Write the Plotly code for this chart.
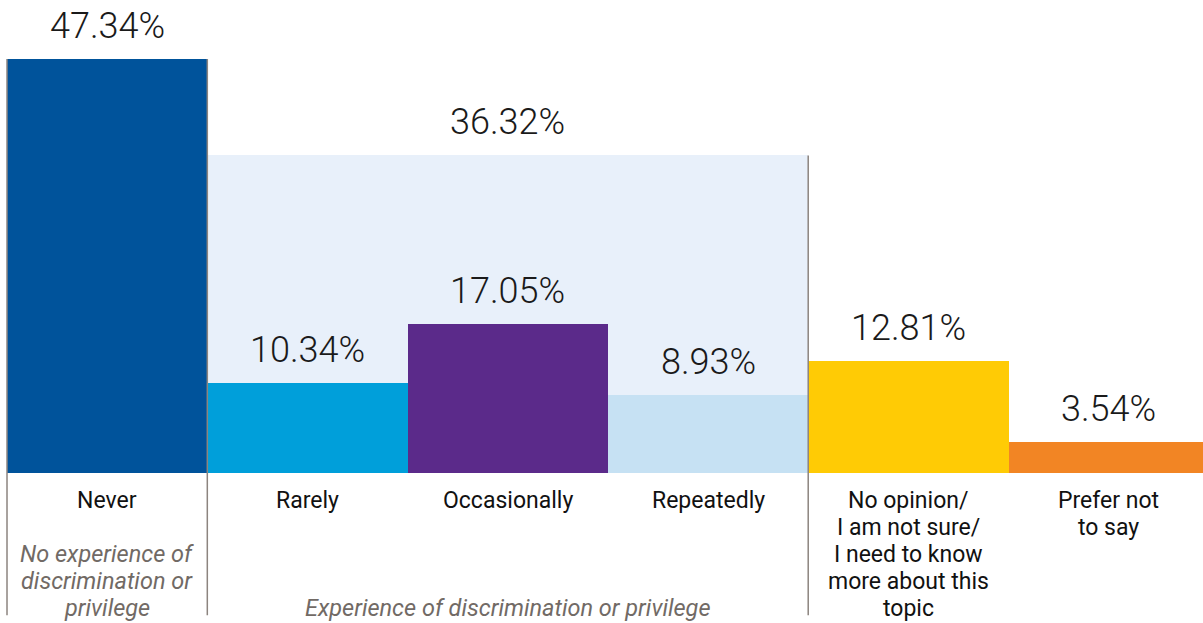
import plotly.graph_objects as go

categories = ["Never", "Rarely", "Occasionally", "Repeatedly",
              "No opinion/<br>I am not sure/<br>I need to know<br>more about this<br>topic",
              "Prefer not<br>to say"]
values = [47.34, 10.34, 17.05, 8.93, 12.81, 3.54]
colors = ["#00539b", "#009fda", "#5b2a8a", "#c6e1f3", "#ffcb05", "#f28524"]
group_label = "Experience of discrimination or privilege"
never_note = "No experience of<br>discrimination or<br>privilege"
group_idx = [1, 2, 3]
group_total = round(sum(values[i] for i in group_idx), 2)

x = list(range(len(categories)))
fig = go.Figure()

# background group bar
gx = sum(group_idx) / len(group_idx)
fig.add_trace(go.Bar(x=[gx], y=[group_total], width=[len(group_idx)],
                     marker=dict(color="#e8f0fa", line=dict(width=0)),
                     hoverinfo="skip", showlegend=False))
fig.add_trace(go.Bar(x=x, y=values, width=1.0,
                     marker=dict(color=colors, line=dict(width=0)),
                     showlegend=False))

val_font = dict(family="Roboto", size=36, color="#1a1a1a", weight=300)
for xi, v in zip(x, values):
    fig.add_annotation(x=xi, y=v, text=f"{v:.2f}%", showarrow=False,
                       yanchor="bottom", yshift=10, font=val_font)
fig.add_annotation(x=gx, y=group_total, text=f"{group_total:.2f}%", showarrow=False,
                   yanchor="bottom", yshift=10, font=val_font)

LINE_H = 27


def multiline(xpos, text, first_center, font):
    for k, line in enumerate(text.split("<br>")):
        fig.add_annotation(x=xpos, y=0, text=line, showarrow=False,
                           yanchor="middle", yshift=-(first_center + LINE_H * k),
                           font=font)


cat_font = dict(family="Roboto", size=23, color="#111111")
for xi, c in zip(x, categories):
    multiline(xi, c, 27, cat_font)

it_font = dict(family="Roboto", size=23.5, color="#716a65", style="italic")
multiline(0, never_note, 81, it_font)
multiline(gx, group_label, 135, it_font)

line_bottom = -16.25
line_col = "#8c847f"
fig.add_shape(type="line", x0=-0.5, x1=-0.5, y0=values[0], y1=line_bottom,
              line=dict(color=line_col, width=1.5), layer="above")
fig.add_shape(type="line", x0=0.5, x1=0.5, y0=values[0], y1=line_bottom,
              line=dict(color=line_col, width=1.5), layer="above")
fig.add_shape(type="line", x0=3.5, x1=3.5, y0=group_total, y1=line_bottom,
              line=dict(color=line_col, width=1.5), layer="above")

fig.update_layout(
    width=1203, height=623,
    margin=dict(l=0, r=0, t=0, b=0),
    barmode="overlay", bargap=0,
    plot_bgcolor="white", paper_bgcolor="white",
    xaxis=dict(range=[-0.535, 5.471], visible=False, fixedrange=True),
    yaxis=dict(range=[-17.15, 54.09], visible=False, fixedrange=True),
)
fig.write_html("out.html", config={"displayModeBar": False},
               post_script="document.body.style.margin='0';document.body.style.overflow='hidden';")
